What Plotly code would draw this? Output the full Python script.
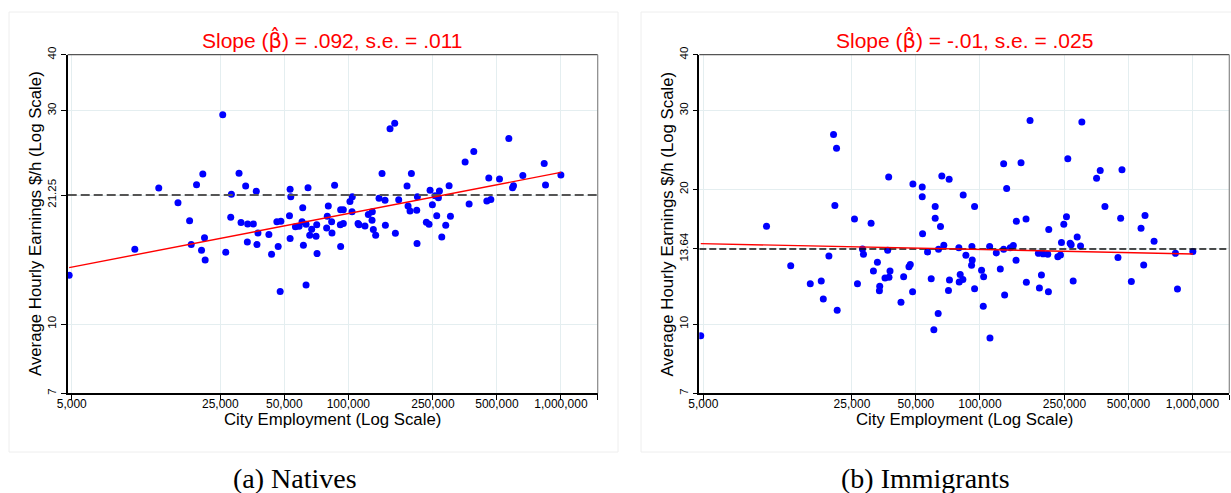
import numpy as np
import plotly.graph_objects as go

# ---------------- data ----------------
natives_emp = [4860, 9900, 12830, 15800, 17920, 18240, 19320, 20680, 21060, 20390,
               21210, 25660, 26510, 28180, 27980, 30610, 32890, 31280, 33610, 35730,
               36900, 37570, 33490, 37170, 42300, 43540, 46780, 46120, 48150, 47800,
               52870, 53240, 53620, 53240, 56390, 58670, 60590, 61030, 61470, 63270,
               64640, 63270, 67250, 65830, 70510, 71020, 71270, 80500, 79630, 79060,
               83460, 83780, 86200, 92020, 92020, 94730, 91700, 94730, 101800, 104400,
               104100, 111100, 112300, 119800, 124200, 129700, 129300, 131100, 134500, 139500,
               144100, 148800, 149400, 157100, 165300, 166500, 172600, 188900, 191000, 195100,
               198000, 209800, 211300, 210500, 232900, 239800, 242400, 248600, 256000, 268300,
               265400, 260600, 275200, 287300, 297900, 302300, 354400, 370100, 389300, 448400,
               468200, 458000, 514300, 569000, 592100, 598500, 662200, 834700, 846800, 1000000]
natives_wage = [12.86, 14.69, 20.14, 18.67, 17.01, 15.05, 20.49, 21.65, 15.58, 14.62,
                13.90, 29.38, 14.47, 19.50, 17.33, 21.73, 20.35, 16.86, 16.74, 16.74,
                19.80, 15.98, 15.26, 15.05, 15.85, 14.32, 14.90, 16.92, 16.98, 11.82,
                17.45, 20.00, 19.26, 15.53, 16.49, 16.55, 16.92, 18.19, 15.00, 16.72,
                20.17, 12.23, 16.29, 15.79, 15.71, 16.66, 14.37, 18.35, 17.42, 16.40,
                16.92, 15.98, 20.42, 14.90, 18.00, 18.00, 16.66, 16.77, 18.80, 19.26,
                17.82, 16.77, 16.66, 16.57, 17.57, 17.82, 17.06, 16.26, 15.79, 19.10,
                21.69, 18.90, 16.63, 27.33, 28.10, 15.96, 18.96, 20.35, 18.35, 17.88,
                21.69, 17.97, 19.26, 15.13, 16.89, 16.72, 19.90, 18.48, 19.36, 19.83,
                19.16, 17.45, 15.66, 16.63, 20.38, 17.42, 23.03, 18.54, 24.30, 18.83,
                18.99, 21.20, 21.10, 26.00, 20.17, 20.38, 21.47, 22.84, 20.45, 21.54]

immig_emp = [4860, 9910, 12880, 15920, 17930, 18330, 19480, 20480, 21160, 20780,
             21310, 25700, 26540, 28020, 28320, 30760, 31550, 32940, 33780, 33660,
             35770, 37220, 36820, 37760, 37350, 42530, 43770, 46360, 47030, 48400,
             48230, 53540, 53540, 53730, 56710, 59000, 61600, 61600, 63860, 63630,
             60720, 65250, 66190, 67630, 71650, 71130, 71900,
             79610, 83440, 85900, 80770, 79910, 83130, 91680, 92020, 91350, 94380,
             94380, 101800, 104100, 103700, 111100, 111500, 119400, 124700, 129300, 133600,
             129300, 130700, 139000, 143600, 148400, 147900, 156100, 164800, 165400, 172100,
             188400, 190500, 194700, 198200, 208500, 210800, 210000, 232500, 239300, 241900,
             248100, 255400, 259100, 265800, 268700, 274600, 286800, 297400, 301700, 353800,
             368100, 387300, 446100, 459200, 465900, 515700, 572700, 589400, 598000, 659600,
             831400, 849700, 1004000]
immig_wage = [9.41, 16.55, 13.49, 12.31, 12.48, 11.38, 14.20, 26.51, 24.70, 18.41,
              10.73, 17.18, 12.31, 14.72, 14.32, 16.80, 13.14, 13.74, 12.14, 11.87,
              12.67, 21.30, 14.62, 13.14, 12.72, 11.18, 12.76, 13.42, 13.58, 20.55,
              11.81, 20.24, 19.25, 15.91, 14.49, 12.63, 18.31, 17.24, 14.70, 10.56,
              9.71, 16.52, 21.41, 15.00, 21.08, 11.89, 12.55,
              14.80, 19.42, 14.25, 12.90, 12.42, 12.57, 14.90, 13.91, 13.53, 18.31,
              11.99, 13.19, 12.76, 10.96, 14.90, 9.31, 14.42, 13.28, 22.82, 20.10,
              14.70, 11.61, 14.80, 14.98, 16.98, 13.89, 22.94, 17.18, 12.40, 28.49,
              14.39, 12.04, 12.87, 14.35, 14.32, 16.26, 11.81, 14.13, 14.27, 15.21,
              16.72, 17.36, 23.41, 15.16, 15.03, 12.48, 15.66, 14.95, 28.30, 21.19,
              22.05, 18.31, 14.08, 17.24, 22.13, 12.44, 16.38, 13.55, 17.48, 15.32,
              14.39, 11.97, 14.52]

# fitted lines (log10 wage = a + b * log10 employment)
natives_fit = {"a": 0.7869, "b": 0.092}
immig_fit = {"a": 1.2166, "b": -0.010}

# horizontal mean lines: position in the picture and their printed labels
natives_mean_pos, natives_mean_label = 19.42, "21.25"
immig_mean_pos, immig_mean_label = 14.72, "13.64"

BETA_HAT = '<span style="font-family:DejaVu Sans">\u03b2\u0302</span>'
titles = ["Slope (" + BETA_HAT + ") = .092, s.e. = .011",
          "Slope (" + BETA_HAT + ") = -.01, s.e. = .025"]
captions = ["(a) Natives", "(b) Immigrants"]

x_tickvals = [5000, 25000, 50000, 100000, 250000, 500000, 1000000, 1490000]
x_ticktext = ["5,000", "25,000", "50,000", "100,000", "250,000", "500,000", "1,000,000", ""]
x_min, x_max = 4785, 1490000
y_min, y_max = 7, 40

y_ticks_nat = [7, 10, natives_mean_pos, 30, 40]
y_text_nat = ["7", "10", natives_mean_label, "30", "40"]
y_ticks_imm = [7, 10, immig_mean_pos, 20, 30, 40]
y_text_imm = ["7", "10", immig_mean_label, "20", "30", "40"]

# ---------------- figure ----------------
W, H = 1231, 493
SANS = "Liberation Sans, Arial, Helvetica, sans-serif"
SERIF = "Liberation Serif, Times New Roman, serif"
GRID = "#e4eef0"

fig = go.Figure()


def add_panel(emp, wage, fit, mean_pos, xa, ya, dash_color, dash_pattern, dash_w):
    fig.add_trace(go.Scatter(x=emp, y=wage, mode="markers",
                             marker=dict(color="#0000ff", size=7, line=dict(width=0)),
                             xaxis=xa, yaxis=ya, showlegend=False, hoverinfo="x+y"))
    fig.add_trace(go.Scatter(x=[x_min, x_max], y=[mean_pos, mean_pos], mode="lines",
                             line=dict(color=dash_color, width=dash_w, dash=dash_pattern),
                             xaxis=xa, yaxis=ya, showlegend=False, hoverinfo="skip"))
    lx = np.log10([min(emp), max(emp)])
    fx = 10 ** lx
    fy = 10 ** (fit["a"] + fit["b"] * lx)
    fig.add_trace(go.Scatter(x=fx, y=fy, mode="lines",
                             line=dict(color="#ff0000", width=1.4),
                             xaxis=xa, yaxis=ya, showlegend=False, hoverinfo="skip"))


add_panel(natives_emp, natives_wage, natives_fit, natives_mean_pos, "x", "y",
          "#555555", "9px,4px", 2)
add_panel(immig_emp, immig_wage, immig_fit, immig_mean_pos, "x2", "y2",
          "#111111", "7px,3px", 1.5)

left_dom = [67.7 / W, 597.7 / W]
right_dom = [699.3 / W, 1229.3 / W]
y_dom = [(H - 393.3) / H, (H - 54.7) / H]

xa_common = dict(type="log", range=[np.log10(x_min), np.log10(x_max)], automargin=False,
                 tickvals=x_tickvals, ticktext=x_ticktext, tickfont=dict(family=SANS, size=12, color="black"),
                 ticks="outside", ticklen=5, tickcolor="black", tickwidth=1, ticklabelstandoff=-6,
                 showgrid=True, gridcolor=GRID, gridwidth=1,
                 showline=True, linecolor="black", linewidth=1.5, zeroline=False)
ya_common = dict(type="log", range=[np.log10(y_min), np.log10(y_max)], automargin=False,
                 tickfont=dict(family=SANS, size=11.5, color="black"), tickangle=-90,
                 ticks="outside", ticklen=5, tickcolor="black", tickwidth=1,
                 showgrid=True, gridcolor=GRID, gridwidth=1,
                 showline=True, linecolor="black", linewidth=1.5, zeroline=False)

fig.update_layout(
    template="none",
    width=W, height=H, margin=dict(l=0, r=0, t=0, b=0, autoexpand=False),
    paper_bgcolor="white", plot_bgcolor="white", showlegend=False,
    xaxis=dict(domain=left_dom, anchor="y", **xa_common),
    yaxis=dict(domain=y_dom, anchor="x", tickvals=y_ticks_nat, ticktext=y_text_nat, **ya_common),
    xaxis2=dict(domain=right_dom, anchor="y2", **xa_common),
    yaxis2=dict(domain=y_dom, anchor="x2", tickvals=y_ticks_imm, ticktext=y_text_imm, **ya_common),
)

shapes = []
# faint panel frames
shapes.append(dict(type="rect", xref="paper", yref="paper", x0=9 / W, x1=618 / W,
                   y0=(H - 452) / H, y1=(H - 12) / H, line=dict(color="#eeeeee", width=1), layer="below"))
shapes.append(dict(type="rect", xref="paper", yref="paper", x0=641 / W, x1=1.02,
                   y0=(H - 452) / H, y1=(H - 12) / H, line=dict(color="#eeeeee", width=1), layer="below"))
# plot-area borders (top/right grey)
for xr, yr in (("x domain", "y domain"), ("x2 domain", "y2 domain")):
    shapes.append(dict(type="line", xref=xr, yref=yr, x0=0, x1=1, y0=1, y1=1,
                       line=dict(color="#555555", width=1.2)))
    shapes.append(dict(type="line", xref=xr, yref=yr, x0=1, x1=1, y0=0, y1=1,
                       line=dict(color="#888888", width=1.2)))
fig.update_layout(shapes=shapes)

ann = []
centers = [(left_dom[0] + left_dom[1]) / 2, (right_dom[0] + right_dom[1]) / 2]
ytitle_x = [35 / W, 666.6 / W]
caption_x = [295 / W, 925 / W]
for i in range(2):
    ann.append(dict(text=titles[i], x=centers[i], y=(H - 40) / H, xref="paper", yref="paper",
                    xanchor="center", yanchor="middle", showarrow=False,
                    font=dict(family=SANS, size=21, color="#ff0000")))
    ann.append(dict(text="City Employment (Log Scale)", x=centers[i], y=(H - 419) / H,
                    xref="paper", yref="paper", xanchor="center", yanchor="middle", showarrow=False,
                    font=dict(family=SANS, size=16.8, color="black")))
    ann.append(dict(text="Average Hourly Earnings $/h (Log Scale)", x=ytitle_x[i], y=(H - 224) / H,
                    xref="paper", yref="paper", xanchor="center", yanchor="middle", showarrow=False,
                    textangle=-90, font=dict(family=SANS, size=16.8, color="black")))
    ann.append(dict(text=captions[i], x=caption_x[i], y=(H - 478) / H, xref="paper", yref="paper",
                    xanchor="center", yanchor="middle", showarrow=False,
                    font=dict(family=SERIF, size=28, color="black")))
fig.update_layout(annotations=ann)

fig.write_html("out.html", config={"displayModeBar": False},
               post_script="document.body.style.margin='0px';")
